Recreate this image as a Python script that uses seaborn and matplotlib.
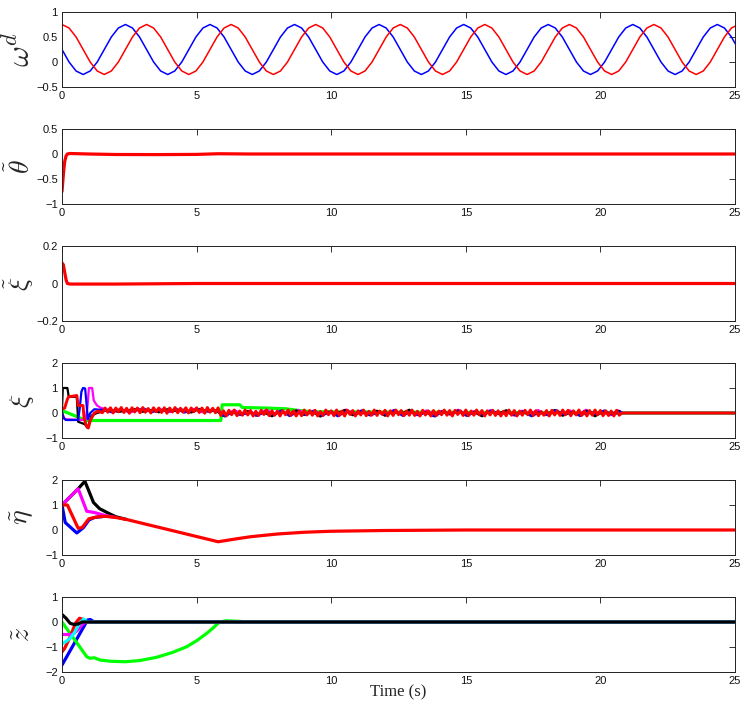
import numpy as np
import seaborn as sns
import matplotlib.pyplot as plt
from matplotlib.ticker import FuncFormatter

# ---- panel 1: desired angular velocity (sampled every ~0.26 s) ----
wave_t = np.linspace(0, 25.13, 97)
omega_blue = [
    0.25, 0.0, -0.18, -0.25, -0.18, 0.0, 0.25, 0.5, 0.68, 0.75, 0.68, 0.5,
    0.25, 0.0, -0.18, -0.25, -0.18, 0.0, 0.25, 0.5, 0.68, 0.75, 0.68, 0.5,
    0.25, 0.0, -0.18, -0.25, -0.18, 0.0, 0.25, 0.5, 0.68, 0.75, 0.68, 0.5,
    0.25, 0.0, -0.18, -0.25, -0.18, 0.0, 0.25, 0.5, 0.68, 0.75, 0.68, 0.5,
    0.25, 0.0, -0.18, -0.25, -0.18, 0.0, 0.25, 0.5, 0.68, 0.75, 0.68, 0.5,
    0.25, 0.0, -0.18, -0.25, -0.18, 0.0, 0.25, 0.5, 0.68, 0.75, 0.68, 0.5,
    0.25, 0.0, -0.18, -0.25, -0.18, 0.0, 0.25, 0.5, 0.68, 0.75, 0.68, 0.5,
    0.25, 0.0, -0.18, -0.25, -0.18, 0.0, 0.25, 0.5, 0.68, 0.75, 0.68, 0.5,
    0.25]
omega_red = [
    0.75, 0.68, 0.5, 0.25, 0.0, -0.18, -0.25, -0.18, 0.0, 0.25, 0.5, 0.68,
    0.75, 0.68, 0.5, 0.25, 0.0, -0.18, -0.25, -0.18, 0.0, 0.25, 0.5, 0.68,
    0.75, 0.68, 0.5, 0.25, 0.0, -0.18, -0.25, -0.18, 0.0, 0.25, 0.5, 0.68,
    0.75, 0.68, 0.5, 0.25, 0.0, -0.18, -0.25, -0.18, 0.0, 0.25, 0.5, 0.68,
    0.75, 0.68, 0.5, 0.25, 0.0, -0.18, -0.25, -0.18, 0.0, 0.25, 0.5, 0.68,
    0.75, 0.68, 0.5, 0.25, 0.0, -0.18, -0.25, -0.18, 0.0, 0.25, 0.5, 0.68,
    0.75, 0.68, 0.5, 0.25, 0.0, -0.18, -0.25, -0.18, 0.0, 0.25, 0.5, 0.68,
    0.75, 0.68, 0.5, 0.25, 0.0, -0.18, -0.25, -0.18, 0.0, 0.25, 0.5, 0.68,
    0.75]

# ---- panel 2: theta tilde ----
theta_t = [0, 0.03, 0.06, 0.1, 0.15, 0.2, 0.3, 1.0, 2.0, 3.5, 5.0, 5.8, 7.0, 10.0, 25.0]
theta_v = [-0.75, -0.55, -0.35, -0.15, -0.04, 0.0, 0.01, 0.0, -0.01, -0.012, -0.008, 0.005, 0.0, 0.0, 0.0]

# ---- panel 3: xi tilde ----
xit_t = [0, 0.05, 0.1, 0.15, 0.2, 0.3, 2.0, 5.0, 25.0]
xit_v = [0.11, 0.1, 0.06, 0.02, 0.0, -0.003, -0.003, 0.0, 0.0]

# ---- panel 4: xi (transients, then noisy part, then settled) ----
xi_black_t = [0, 0.03, 0.2, 0.25, 0.55, 0.6, 0.85, 0.95, 1.1, 1.3]
xi_black_v = [0.15, 1.0, 1.0, 0.65, 0.65, -0.35, -0.45, -0.6, -0.1, 0.0]
xi_blue_t = [0, 0.06, 0.15, 0.6, 0.66, 0.72, 0.78, 0.86, 0.9, 0.96, 1.05, 1.2]
xi_blue_v = [0.05, -0.2, -0.28, -0.28, 0.2, 0.85, 1.0, 0.98, 0.5, -0.25, 0.0, 0.15]
xi_mag_t = [0, 0.1, 0.88, 0.95, 1.0, 1.12, 1.18, 1.3, 1.45, 1.6]
xi_mag_v = [0.0, -0.25, -0.28, 0.3, 1.0, 1.0, 0.5, 0.3, 0.2, 0.16]
xi_red_t = [0, 0.1, 0.2, 0.25, 0.55, 0.6, 0.78, 0.82, 0.9, 0.98, 1.05, 1.2, 1.35]
xi_red_v = [0.15, 0.2, 0.55, 0.65, 0.7, 0.3, 0.3, -0.2, -0.5, -0.6, -0.3, 0.0, 0.08]
xi_green_t = [0, 0.9, 1.1, 5.9, 5.95, 6.6, 6.7, 7.5, 8.3, 8.8, 9.3, 20.8, 25]
xi_green_v = [0.1, -0.3, -0.3, -0.3, 0.33, 0.33, 0.22, 0.2, 0.17, 0.1, 0.05, 0.0, 0.0]

# red noise, every 0.1 s from 1.5 s to 20.7 s
xi_red_noise = [
    0.01, 0.2, 0.03, 0.21, 0.0, 0.2, 0.05, 0.22, 0.02, 0.19,
    -0.01, 0.21, 0.04, 0.2, 0.01, 0.22, 0.03, 0.18, 0.0, 0.21,
    0.05, 0.2, 0.02, 0.21, -0.01, 0.2, 0.04, 0.22, 0.01, 0.19,
    0.03, 0.21, 0.0, 0.2, 0.05, 0.21, 0.02, 0.2, -0.01, 0.22,
    0.03, 0.19, 0.01, 0.21,
    -0.1, 0.09, -0.12, 0.11, -0.07, 0.12, -0.11, 0.08, -0.09, 0.12,
    -0.08, 0.1, -0.12, 0.07, -0.1, 0.11, -0.06, 0.12, -0.11, 0.09,
    -0.09, 0.08, -0.12, 0.1, -0.07, 0.12, -0.1, 0.09, -0.12, 0.07,
    -0.11, 0.12, -0.08, 0.1, -0.09, 0.11, -0.12, 0.06, -0.1, 0.12,
    -0.07, 0.09, -0.11, 0.12, -0.1, 0.08, -0.12, 0.11, -0.06, 0.1,
    -0.12, 0.09, -0.08, 0.12, -0.11, 0.07, -0.09, 0.12, -0.1, 0.08,
    -0.06, 0.11, -0.12, 0.09, -0.1, 0.12, -0.07, 0.1, -0.11, 0.08,
    -0.09, 0.12, -0.1, 0.07, -0.12, 0.11, -0.08, 0.09, -0.12, 0.1,
    -0.11, 0.08, -0.07, 0.12, -0.09, 0.1, -0.12, 0.11, -0.06, 0.09,
    -0.1, 0.12, -0.11, 0.08, -0.09, 0.12, -0.07, 0.1, -0.12, 0.09,
    -0.08, 0.11, -0.1, 0.09, -0.12, 0.07, -0.11, 0.12, -0.09, 0.1,
    -0.12, 0.08, -0.09, 0.11, -0.07, 0.12, -0.1, 0.09, -0.11, 0.06,
    -0.09, 0.1, -0.12, 0.11, -0.08, 0.09, -0.1, 0.12, -0.07, 0.11,
    -0.11, 0.09, -0.08, 0.12, -0.1, 0.07, -0.12, 0.1, -0.09, 0.12,
    -0.07, 0.1, -0.11, 0.09, -0.1, 0.08, -0.12, 0.11, -0.09]
# other channels, every 0.3 s
xi_black_noise = [
    0.06, 0.14, 0.04, 0.1, 0.16, 0.05, 0.12, 0.03, 0.15, 0.08, 0.13, 0.02, 0.16, 0.07, 0.11,
    -0.12, 0.03, -0.06, 0.08, -0.1, 0.02, -0.13, 0.06, -0.04, 0.1,
    -0.08, 0.04, -0.14, 0.05, -0.03, 0.12, -0.09, 0.02, -0.06, 0.09,
    -0.11, 0.05, -0.04, 0.13, -0.07, 0.03, -0.12, 0.06, -0.05, 0.1,
    -0.09, 0.04, -0.13, 0.07, -0.03, 0.11, -0.08, 0.05, -0.1, 0.03,
    -0.06, 0.12, -0.11, 0.04, -0.07, 0.09, -0.13, 0.05, -0.04, 0.08]
xi_blue_noise = [
    0.12, 0.03, 0.15, 0.07, 0.1, 0.17, 0.04, 0.13, 0.06, 0.16, 0.02, 0.11, 0.14, 0.05, 0.12,
    -0.14, 0.05, -0.08, 0.02, -0.11, 0.07, -0.05, 0.1, -0.12, 0.03,
    -0.07, 0.09, -0.1, 0.04, -0.13, 0.06, -0.03, 0.11, -0.09, 0.02,
    -0.06, 0.12, -0.11, 0.05, -0.08, 0.03, -0.14, 0.07, -0.04, 0.09,
    -0.12, 0.06, -0.07, 0.1, -0.05, 0.02, -0.1, 0.08, -0.13, 0.04,
    -0.09, 0.11, -0.06, 0.03, -0.12, 0.07, -0.04, 0.1, -0.08, 0.05]
xi_mag_noise = [
    0.15, 0.06, 0.12, 0.02, 0.17, 0.08, 0.11, 0.14, 0.04, 0.13, 0.07, 0.16, 0.03, 0.12, 0.09,
    -0.05, 0.11, -0.03, 0.06, -0.09, 0.13, -0.04, 0.08, -0.07, 0.12,
    -0.02, 0.09, -0.08, 0.05, -0.06, 0.14, -0.03, 0.07, -0.1, 0.06,
    -0.04, 0.12, -0.07, 0.04, -0.09, 0.1, -0.02, 0.08, -0.06, 0.13,
    -0.05, 0.07, -0.08, 0.11, -0.03, 0.06, -0.1, 0.09, -0.04, 0.12,
    -0.07, 0.05, -0.02, 0.1, -0.08, 0.13, -0.05, 0.06, -0.09, 0.11]
settled_t = [20.8, 25.0]
settled_v = [0.0, 0.0]

# ---- panel 5: eta tilde ----
eta_black_t = [0, 0.6, 0.85, 1.17, 1.4, 1.8, 2.0, 2.4]
eta_black_v = [1.0, 1.65, 1.95, 1.1, 0.85, 0.63, 0.53, 0.42]
eta_mag_t = [0, 0.6, 0.92, 1.2, 1.6, 2.0]
eta_mag_v = [1.0, 1.65, 0.75, 0.7, 0.58, 0.5]
eta_blue_t = [0, 0.12, 0.55, 0.8, 1.0, 1.2, 1.6]
eta_blue_v = [1.0, 0.3, -0.12, 0.1, 0.4, 0.5, 0.55]
eta_red_t = [0, 0.2, 0.6, 0.75, 1.0, 1.3, 1.6, 2.0, 2.4, 5.8, 6.5, 7.0, 8.0, 9.0, 10.0, 12.0, 15.0, 25.0]
eta_red_v = [1.0, 1.0, 0.07, 0.1, 0.45, 0.52, 0.55, 0.5, 0.42, -0.47, -0.35, -0.27, -0.16, -0.09, -0.05, -0.02, 0.0, 0.0]

# ---- panel 6: z tilde ----
z_green_t = [0, 0.92, 1.04, 1.2, 1.41, 1.8, 2.35, 2.9, 3.52, 4.1, 4.63, 5.0, 5.38, 5.6, 5.85, 6.1, 6.5, 7.0, 25]
z_green_v = [0.0, -1.39, -1.45, -1.43, -1.52, -1.57, -1.59, -1.54, -1.41, -1.22, -0.99, -0.75, -0.45, -0.25,
             0.0, 0.05, 0.03, 0.0, 0.0]
z_blue_t = [0, 0.95, 1.05, 1.2, 25]
z_blue_v = [-1.72, 0.08, 0.1, 0.0, 0.0]
z_red_t = [0, 0.1, 0.3, 0.5, 0.65, 0.8, 0.9, 25]
z_red_v = [-1.2, -1.05, -0.6, -0.05, 0.15, 0.1, 0.0, 0.0]
z_mag_t = [0, 0.4, 0.6, 0.75, 0.88, 25]
z_mag_v = [-0.5, -0.5, -0.3, -0.1, 0.0, 0.0]
z_cyan_t = [0, 0.15, 0.3, 0.45, 0.6, 0.8, 0.95, 25]
z_cyan_v = [-0.88, -0.78, -0.65, -0.45, -0.15, 0.12, 0.0, 0.0]
z_black_t = [0, 0.15, 0.3, 0.45, 0.6, 0.75, 1.0, 25]
z_black_v = [0.3, 0.15, -0.05, -0.1, -0.08, 0.0, 0.0, 0.0]

y_labels = [r'$\omega^d$', r'$\tilde{\theta}$', r'$\tilde{\xi}$', r'$\xi$', r'$\tilde{\eta}$', r'$\tilde{z}$']
y_label_sizes = [23, 20, 20, 20, 20, 20]
y_limits = [(-0.5, 1), (-1, 0.5), (-0.2, 0.2), (-1, 2), (-1, 2), (-2, 1)]
y_ticks = [[-0.5, 0, 0.5, 1], [-1, -0.5, 0, 0.5], [-0.2, 0, 0.2], [-1, 0, 1, 2], [-1, 0, 1, 2], [-2, -1, 0, 1]]
x_ticks = [0, 5, 10, 15, 20, 25]

# MATLAB-style pure colours
BLUE, RED, BLACK = '#0000ff', '#ff0000', '#000000'
MAGENTA, GREEN, CYAN = '#ff00ff', '#00ff00', '#00ffff'

sns.set_style("white")
plt.rcParams['font.family'] = ['Liberation Sans', 'DejaVu Sans']
plt.rcParams['mathtext.fontset'] = 'cm'

fig = plt.figure(figsize=(7.47, 7.05), dpi=100)
W, H = 747, 705
panel_tops = [12, 129, 246, 363, 480, 597]
axes = []
for top in panel_tops:
    axes.append(fig.add_axes([62 / W, 1 - (top + 75) / H, 673 / W, 75 / H]))


def line(ax, t, v, color, lw=2.3):
    sns.lineplot(x=list(t), y=list(v), color=color, lw=lw, ax=ax,
                 estimator=None, sort=False)


def noisy(t0, t1, vals):
    return list(np.linspace(t0, t1, len(vals)))


# panel 1
line(axes[0], wave_t, omega_blue, BLUE, 1.1)
line(axes[0], wave_t, omega_red, RED, 1.1)

# panel 2, 3
line(axes[1], theta_t, theta_v, RED)
line(axes[2], xit_t, xit_v, RED)

# panel 4
ax = axes[3]
line(ax, xi_green_t, xi_green_v, GREEN)
line(ax, xi_mag_t + noisy(1.65, 20.65, xi_mag_noise) + settled_t,
     xi_mag_v + xi_mag_noise + settled_v, MAGENTA, 1.6)
line(ax, xi_black_t + noisy(1.5, 20.7, xi_black_noise) + settled_t,
     xi_black_v + xi_black_noise + settled_v, BLACK, 1.6)
line(ax, xi_blue_t + noisy(1.55, 20.75, xi_blue_noise) + settled_t,
     xi_blue_v + xi_blue_noise + settled_v, BLUE, 1.6)
line(ax, xi_red_t + noisy(1.5, 20.7, xi_red_noise) + settled_t,
     xi_red_v + xi_red_noise + settled_v, RED, 2.1)

# panel 5
ax = axes[4]
line(ax, eta_blue_t, eta_blue_v, BLUE)
line(ax, eta_black_t, eta_black_v, BLACK)
line(ax, eta_mag_t, eta_mag_v, MAGENTA)
line(ax, eta_red_t, eta_red_v, RED)

# panel 6
ax = axes[5]
line(ax, z_blue_t, z_blue_v, BLUE)
line(ax, z_green_t, z_green_v, GREEN)
line(ax, z_red_t, z_red_v, RED)
line(ax, z_mag_t, z_mag_v, MAGENTA)
line(ax, z_cyan_t, z_cyan_v, CYAN)
line(ax, z_black_t, z_black_v, BLACK)

fmt = FuncFormatter(lambda v, p: f'{v:g}'.replace('-', '\u2212'))
for ax, lab, size, lim, yt in zip(axes, y_labels, y_label_sizes, y_limits, y_ticks):
    ax.set_xlim(0, 25)
    ax.set_ylim(*lim)
    ax.set_xticks(x_ticks)
    ax.set_yticks(yt)
    ax.xaxis.set_major_formatter(fmt)
    ax.yaxis.set_major_formatter(fmt)
    ax.tick_params(direction='in', top=True, right=True, length=4, width=0.6,
                   labelsize=8, pad=3, colors='#111111')
    for sp in ax.spines.values():
        sp.set_visible(True)
        sp.set_linewidth(0.7)
        sp.set_color('#222222')
    ax.set_xlabel('')
    ax.set_ylabel(lab, fontsize=size, rotation=90)
    ax.yaxis.set_label_coords(-0.038, 0.5)

axes[-1].set_xlabel('Time (s)', fontsize=12, fontfamily='Liberation Serif')
axes[-1].xaxis.set_label_coords(0.5, -0.17)

fig.savefig('out.png', dpi=100)
